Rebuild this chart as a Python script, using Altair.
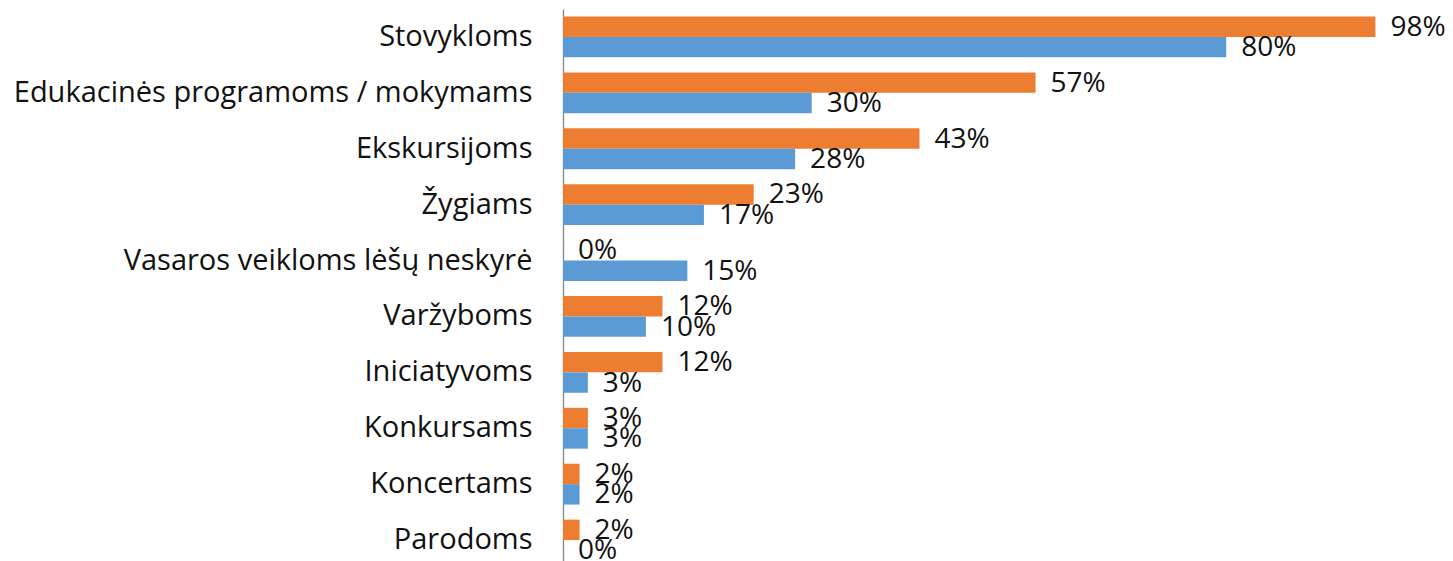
import altair as alt
import pandas as pd

categories = ["Stovykloms", "Edukacinės programoms / mokymams", "Ekskursijoms", "Žygiams",
              "Vasaros veikloms lėšų neskyrė", "Varžyboms", "Iniciatyvoms", "Konkursams",
              "Koncertams", "Parodoms"]
orange_vals = [0.98, 0.57, 0.43, 0.23, 0.00, 0.12, 0.12, 0.03, 0.02, 0.02]
blue_vals = [0.80, 0.30, 0.28, 0.17, 0.15, 0.10, 0.03, 0.03, 0.02, 0.00]
series = ["A", "B"]
colors = ["#ED7D31", "#5B9BD5"]

rows = []
for c, o, b in zip(categories, orange_vals, blue_vals):
    rows.append({"cat": c, "series": series[0], "v": o})
    rows.append({"cat": c, "series": series[1], "v": b})
df = pd.DataFrame(rows)

FONT = "Open Sans"

y = alt.Y("cat:N", sort=categories, title=None,
          scale=alt.Scale(paddingInner=0.27, paddingOuter=0.135, range=[0, 559]),
          axis=alt.Axis(ticks=False, labelFontSize=29, labelFont=FONT, labelColor="#111111",
                        labelPadding=31, domainColor="#868686", domainWidth=1.3, labelLimit=0))
yo = alt.YOffset("series:N", sort=series, scale=alt.Scale(paddingInner=0, paddingOuter=0))
x = alt.X("v:Q", scale=alt.Scale(domain=[0, 1]), axis=None)

bars = alt.Chart(df).mark_bar(clip=False).encode(
    y=y, yOffset=yo, x=x,
    color=alt.Color("series:N", scale=alt.Scale(domain=series, range=colors), legend=None),
)
labels = alt.Chart(df).mark_text(align="left", baseline="middle", dx=15, dy=1, fontSize=28,
                                 font=FONT, color="#111111", clip=False).encode(
    y=y, yOffset=yo, x=x, text=alt.Text("v:Q", format=".0%"),
)

chart = (bars + labels).properties(
    width=829, height=552,
    autosize=alt.AutoSizeParams(type="none"),
    padding={"left": 555, "top": 1, "right": 53, "bottom": 0},
).configure_view(stroke=None)

chart.save("out.html", embed_options={"renderer": "svg", "actions": False})
